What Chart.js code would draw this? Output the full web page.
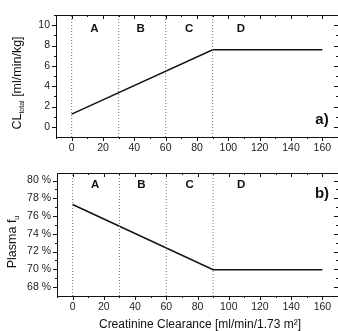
<!DOCTYPE html>
<html>
<head>
<meta charset="utf-8">
<script src="https://cdn.jsdelivr.net/npm/chart.js@4"></script>
<style>
  body { margin: 0; background: #fff; }
  #wrap { position: relative; width: 338px; height: 331px; overflow: hidden; }
  #boxA { position: absolute; left: 0; top: 0; width: 338px; height: 160px; }
  #boxB { position: absolute; left: 0; top: 160px; width: 338px; height: 171px; }
</style>
</head>
<body>
<div id="wrap">
  <div id="boxA"><canvas id="chartA"></canvas></div>
  <div id="boxB"><canvas id="chartB"></canvas></div>
</div>
<script>
// data
var creatClear = [0, 90, 160];
var clTotal = [1.25, 7.58, 7.58];
var fuPlasma = [77.3, 69.95, 69.95];

var zoneBounds = [0, 30, 60, 90];
var zoneNames = ['A', 'B', 'C', 'D'];
var zoneLabelX = [14.5, 44, 75, 108];

var xTicks = [0, 20, 40, 60, 80, 100, 120, 140, 160];
var yTicksA = [0, 2, 4, 6, 8, 10];
var yTicksB = [68, 70, 72, 74, 76, 78, 80];

var FONT = '"Liberation Sans", Arial, sans-serif';

function lineSet(ys) {
  return {
    data: creatClear.map(function(x, i) { return { x: x, y: ys[i] }; }),
    borderColor: '#111', borderWidth: 1.5, pointRadius: 0, tension: 0
  };
}

function zoneSets(lo, hi) {
  return zoneBounds.map(function(b) {
    return {
      data: [{ x: b, y: lo }, { x: b, y: hi }],
      borderColor: '#777', borderWidth: 1, borderDash: [1, 2], pointRadius: 0
    };
  });
}

// frame, tick marks, titles and zone letters
var decor = {
  id: 'decor',
  afterDraw: function(chart, args, o) {
    var ctx = chart.ctx, a = chart.chartArea;
    var xs = chart.scales.x, ys = chart.scales.y;
    ctx.save();
    ctx.strokeStyle = '#111';
    ctx.lineWidth = 1;
    ctx.strokeRect(Math.round(a.left) + 0.5, Math.round(a.top) + 0.5,
                   Math.round(a.right - a.left), Math.round(a.bottom - a.top));
    ctx.beginPath();
    for (var v = -10; v <= 170; v += 10) {
      var px = Math.round(xs.getPixelForValue(v)) + 0.5;
      if (px < a.left || px > a.right) continue;
      var len = v % 20 === 0 ? 4 : 2;
      ctx.moveTo(px, a.bottom); ctx.lineTo(px, a.bottom + len);
      ctx.moveTo(px, a.top); ctx.lineTo(px, a.top + len);
    }
    for (var w = o.yMinor[0]; w <= o.yMinor[1]; w += o.yMinor[2]) {
      var py = Math.round(ys.getPixelForValue(w)) + 0.5;
      if (py < a.top || py > a.bottom) continue;
      var major = o.yTicks.indexOf(w) >= 0;
      var l2 = major ? 4 : 2;
      ctx.moveTo(a.left, py); ctx.lineTo(a.left - l2, py);
      ctx.moveTo(a.right, py); ctx.lineTo(a.right - l2, py);
    }
    ctx.stroke();

    ctx.fillStyle = '#111';
    ctx.textAlign = 'center';
    ctx.textBaseline = 'middle';
    ctx.font = 'bold 11.5px ' + FONT;
    zoneNames.forEach(function(n, i) {
      ctx.fillText(n, xs.getPixelForValue(zoneLabelX[i]), ys.getPixelForValue(o.zoneY));
    });
    ctx.font = 'bold 15px ' + FONT;
    ctx.fillText(o.tag, a.right - 16, o.tagY);

    // y title with subscript, rotated
    ctx.translate(o.titleX, o.titleY);
    ctx.rotate(-Math.PI / 2);
    var parts = o.title;
    var total = 0;
    parts.forEach(function(p) {
      ctx.font = (p.sub ? '7px ' : '12.5px ') + FONT;
      total += ctx.measureText(p.t).width;
    });
    var cx = -total / 2;
    ctx.textAlign = 'left';
    ctx.textBaseline = 'alphabetic';
    parts.forEach(function(p) {
      ctx.font = (p.sub ? '7px ' : '12.5px ') + FONT;
      ctx.fillText(p.t, cx, p.sub ? 7 : 4);
      cx += ctx.measureText(p.t).width;
    });
    ctx.restore();

    if (o.xTitle) {
      ctx.save();
      ctx.fillStyle = '#111';
      ctx.font = '12px ' + FONT;
      ctx.textAlign = 'center';
      ctx.textBaseline = 'middle';
      ctx.fillText(o.xTitle, 200, o.xTitleY);
      ctx.restore();
    }
  }
};

function makeChart(id, ys, yMin, yMax, yTicks, fmt, padTop, xAxisH, yAxisW, dec) {
  return new Chart(document.getElementById(id), {
    type: 'line',
    data: { datasets: zoneSets(yMin, yMax).concat([lineSet(ys)]) },
    options: {
      responsive: true,
      maintainAspectRatio: false,
      animation: false,
      layout: { padding: { top: padTop, right: 0, left: 0, bottom: 0 } },
      plugins: { legend: { display: false }, tooltip: { enabled: false }, decor: dec },
      scales: {
        x: {
          type: 'linear', min: -10, max: 170,
          grid: { display: false, drawTicks: false },
          border: { display: false },
          afterBuildTicks: function(s) { s.ticks = xTicks.map(function(v) { return { value: v }; }); },
          afterFit: function(s) { s.height = xAxisH; },
          ticks: { padding: 5, color: '#222', font: { family: FONT, size: 10.5 }, maxRotation: 0 }
        },
        y: {
          min: yMin, max: yMax,
          grid: { display: false, drawTicks: false },
          border: { display: false },
          afterBuildTicks: function(s) { s.ticks = yTicks.map(function(v) { return { value: v }; }); },
          afterFit: function(s) { s.width = yAxisW; },
          ticks: { padding: 6, color: '#222', font: { family: FONT, size: 10.5 }, callback: fmt }
        }
      }
    },
    plugins: [decor]
  });
}

makeChart('chartA', clTotal, -1, 11, yTicksA, function(v) { return v; }, 15, 23, 56, {
  yTicks: yTicksA, yMinor: [-1, 11, 1], zoneY: 9.6, tag: 'a)', tagY: 120,
  titleX: 17, titleY: 83,
  title: [{ t: 'CL' }, { t: 'total', sub: true }, { t: ' [ml/min/kg]' }]
});

makeChart('chartB', fuPlasma, 67, 80.85, yTicksB, function(v) { return v + ' %'; }, 13, 35, 57, {
  yTicks: yTicksB, yMinor: [67, 80, 1], zoneY: 79.5, tag: 'b)', tagY: 34,
  titleX: 12, titleY: 82,
  title: [{ t: 'Plasma f' }, { t: 'u', sub: true }],
  xTitle: 'Creatinine Clearance [ml/min/1.73 m\u00b2]', xTitleY: 165
});
</script>
</body>
</html>
